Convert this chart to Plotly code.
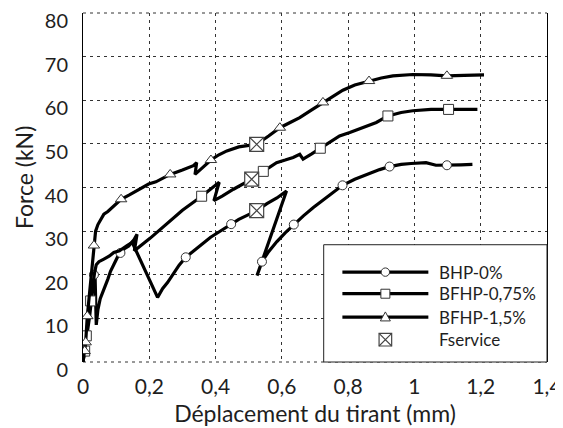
import plotly.graph_objects as go

# ---------------- data ----------------
bhp0_x = [0.0, 0.010, 0.020, 0.028, 0.033, 0.036, 0.040, 0.045, 0.052, 0.063, 0.075, 0.083, 0.095,
          0.105, 0.113, 0.125, 0.138, 0.148, 0.225, 0.240, 0.255, 0.270, 0.290, 0.310, 0.335,
          0.360, 0.385, 0.410, 0.430, 0.447, 0.470, 0.495, 0.524, 0.555, 0.585, 0.614, 0.525,
          0.540, 0.560, 0.585, 0.610, 0.636, 0.665, 0.695, 0.725, 0.755, 0.783, 0.820, 0.860,
          0.895, 0.925, 0.960, 0.990, 1.035, 1.065, 1.098, 1.140, 1.175]
bhp0_y = [0.0, 5.0, 10.5, 16.0, 20.0, 21.0, 8.5, 12.0, 14.5, 16.5, 19.0, 20.8, 22.8,
          24.2, 25.0, 26.0, 26.6, 27.5, 14.8, 16.8, 18.2, 19.8, 22.2, 24.0, 25.6,
          27.0, 28.6, 29.8, 30.8, 31.6, 32.7, 33.6, 34.7, 36.3, 37.6, 39.2, 19.8,
          23.0, 25.3, 27.6, 29.6, 31.5, 33.5, 35.4, 37.2, 38.9, 40.5, 41.9, 43.1,
          44.1, 44.8, 45.3, 45.5, 45.7, 45.1, 45.1, 45.2, 45.3]
bhp0_mx = [0.033, 0.113, 0.310, 0.447, 0.540, 0.636, 0.783, 0.925, 1.098]
bhp0_my = [20.0, 25.0, 24.0, 31.6, 23.0, 31.5, 40.5, 44.8, 45.1]

bfhp075_x = [0.0, 0.005, 0.010, 0.016, 0.023, 0.030, 0.035, 0.040, 0.048, 0.063, 0.080, 0.093,
             0.110, 0.133, 0.150, 0.163, 0.155, 0.203, 0.250, 0.300, 0.358, 0.385, 0.411, 0.395,
             0.420, 0.454, 0.480, 0.509, 0.544, 0.584, 0.610, 0.634, 0.654, 0.664, 0.690, 0.716,
             0.745, 0.774, 0.805, 0.850, 0.885, 0.920, 0.960, 0.995, 1.050, 1.103, 1.150, 1.190]
bfhp075_y = [0.0, 2.5, 6.0, 10.0, 14.0, 18.0, 20.5, 22.3, 23.0, 23.6, 24.3, 25.1,
             25.5, 26.7, 27.5, 29.3, 25.5, 28.4, 31.5, 34.8, 38.0, 39.6, 41.2, 37.0,
             38.0, 39.6, 40.6, 41.9, 43.7, 45.7, 46.3, 46.9, 47.6, 46.5, 47.7, 49.0,
             50.4, 51.8, 52.6, 53.8, 54.9, 56.4, 57.2, 57.6, 57.9, 57.9, 58.0, 57.9]
bfhp075_mx = [0.005, 0.010, 0.023, 0.358, 0.544, 0.716, 0.920, 1.103]
bfhp075_my = [2.5, 6.0, 14.0, 38.0, 43.7, 49.0, 56.4, 57.9]

bfhp15_x = [0.0, 0.005, 0.008, 0.013, 0.020, 0.028, 0.033, 0.036, 0.038, 0.045, 0.055, 0.063,
            0.075, 0.093, 0.115, 0.140, 0.170, 0.198, 0.220, 0.240, 0.263, 0.300, 0.333, 0.343,
            0.338, 0.360, 0.386, 0.410, 0.434, 0.470, 0.500, 0.524, 0.560, 0.594, 0.625, 0.654,
            0.690, 0.724, 0.750, 0.784, 0.820, 0.863, 0.900, 0.935, 0.995, 1.050, 1.098, 1.150, 1.210]
bfhp15_y = [0.0, 2.5, 4.5, 10.5, 16.0, 22.0, 26.7, 28.0, 30.0, 31.5, 33.0, 33.9,
            34.5, 35.8, 37.3, 38.3, 39.5, 40.8, 41.3, 42.0, 43.0, 44.0, 45.0, 45.7,
            43.0, 44.5, 46.3, 47.5, 48.4, 49.3, 49.7, 49.9, 51.8, 53.7, 54.9, 56.0,
            57.8, 59.5, 60.8, 62.3, 63.5, 64.4, 65.1, 65.6, 65.9, 65.8, 65.6, 65.7, 65.8]
bfhp15_mx = [0.005, 0.008, 0.013, 0.033, 0.115, 0.263, 0.386, 0.594, 0.724, 0.863, 1.098]
bfhp15_my = [2.5, 4.5, 10.5, 26.7, 37.3, 43.0, 46.3, 53.7, 59.5, 64.4, 65.6]

fservice_x = [0.524, 0.509, 0.524]
fservice_y = [49.9, 41.9, 34.7]

series_names = ["BHP-0%", "BFHP-0,75%", "BFHP-1,5%"]
fservice_name = "Fservice"

x_tickvals = [0, 0.2, 0.4, 0.6, 0.8, 1.0, 1.2, 1.4]
x_ticktext = ["0", "0,2", "0,4", "0,6", "0,8", "1", "1,2", "1,4"]
y_tickvals = [0, 10, 20, 30, 40, 50, 60, 70, 80]

x_title = "Déplacement du tirant (mm)"
y_title = "Force (kN)"

# ---------------- styling ----------------
FONT = "Lato"
TXT = "#1e1e1e"
OFF = 8                      # page body margin offset in the browser
W, H = 555, 420
ML, MR, MT, MB = 74.5, 16.3, 4.5, 66.4
symbols = ["circle", "square", "triangle-up"]
msizes = [9, 10, 10]

fig = go.Figure()
series = [(bhp0_x, bhp0_y, bhp0_mx, bhp0_my),
          (bfhp075_x, bfhp075_y, bfhp075_mx, bfhp075_my),
          (bfhp15_x, bfhp15_y, bfhp15_mx, bfhp15_my)]

for (lx, ly, mx, my), sym, ms, name in zip(series, symbols, msizes, series_names):
    fig.add_trace(go.Scatter(x=lx, y=ly, mode="lines", name=name, showlegend=False,
                             line=dict(color="black", width=3.2)))
    fig.add_trace(go.Scatter(x=mx, y=my, mode="markers", showlegend=False,
                             marker=dict(symbol=sym, size=ms, color="white",
                                         line=dict(color="#333", width=1))))

fig.add_trace(go.Scatter(x=fservice_x, y=fservice_y, mode="markers", name=fservice_name,
                         showlegend=False,
                         marker=dict(symbol="square-x", size=14, color="white",
                                     line=dict(color="#444", width=1.2))))

# ---------------- custom legend drawn as shapes (plot-area fractions from screen pixels) ----------------
pw, ph = W - ML - MR, H - MT - MB
def fx(px):
    return (px - OFF - ML) / pw
def fy(py):
    return (H - MB - (py - OFF)) / ph

row_py = [271.7, 293.3, 316.7, 339.3]
LX0, LX1, LXM = 342, 428, 385
MK = dict(color="#333", width=1)

shapes = [
    # dashed top & bottom frame lines
    dict(type="line", xref="paper", yref="paper", x0=0, x1=1, y0=1, y1=1,
         line=dict(color="#333", width=1, dash="3px,4px"), layer="between"),
    dict(type="line", xref="paper", yref="paper", x0=0, x1=1, y0=0, y1=0,
         line=dict(color="#333", width=1, dash="3px,4px"), layer="between"),
    # legend box
    dict(type="rect", xref="paper", yref="paper", x0=fx(323.3), x1=1, y0=0, y1=fy(244.3),
         line=dict(color="#222", width=1), fillcolor="white", layer="above"),
]
for i in range(3):
    yy = fy(row_py[i])
    shapes.append(dict(type="line", xref="paper", yref="paper", x0=fx(LX0), x1=fx(LX1), y0=yy, y1=yy,
                       line=dict(color="black", width=3.2), layer="above"))
# circle
r = 4.2
shapes.append(dict(type="circle", xref="paper", yref="paper",
                   x0=fx(LXM - r), x1=fx(LXM + r), y0=fy(row_py[0] + r), y1=fy(row_py[0] - r),
                   line=MK, fillcolor="white", layer="above"))
# square
s = 4.5
shapes.append(dict(type="rect", xref="paper", yref="paper",
                   x0=fx(LXM - s), x1=fx(LXM + s), y0=fy(row_py[1] + s), y1=fy(row_py[1] - s),
                   line=MK, fillcolor="white", layer="above"))
# triangle
cy = row_py[2]
tri = "M {:.5f},{:.5f} L {:.5f},{:.5f} L {:.5f},{:.5f} Z".format(
    fx(LXM - 5), fy(cy + 3.8), fx(LXM + 5), fy(cy + 3.8), fx(LXM), fy(cy - 5.2))
shapes.append(dict(type="path", xref="paper", yref="paper", path=tri,
                   line=MK, fillcolor="white", layer="above"))
# square with X (Fservice)
q = 6.3
cy = row_py[3]
shapes.append(dict(type="rect", xref="paper", yref="paper",
                   x0=fx(LXM - q), x1=fx(LXM + q), y0=fy(cy + q), y1=fy(cy - q),
                   line=dict(color="#444", width=1.2), fillcolor="white", layer="above"))
xpath = "M {:.5f},{:.5f} L {:.5f},{:.5f} M {:.5f},{:.5f} L {:.5f},{:.5f}".format(
    fx(LXM - q), fy(cy + q), fx(LXM + q), fy(cy - q), fx(LXM - q), fy(cy - q), fx(LXM + q), fy(cy + q))
shapes.append(dict(type="path", xref="paper", yref="paper", path=xpath,
                   line=dict(color="#444", width=1.1), layer="above"))

annotations = []
for i, name in enumerate(series_names + [fservice_name]):
    annotations.append(dict(x=fx(436.5), y=fy(row_py[i]), xref="paper", yref="paper",
                            text=name, showarrow=False, xanchor="left", yanchor="middle",
                            font=dict(family=FONT, size=17, color=TXT)))
# y-axis title
annotations.append(dict(x=fx(24), y=fy(177), xref="paper", yref="paper", text=y_title,
                        textangle=-90, showarrow=False, xanchor="center", yanchor="middle",
                        font=dict(family=FONT, size=23, color=TXT)))

fig.update_layout(
    width=W, height=H,
    margin=dict(l=ML, r=MR, t=MT, b=MB, autoexpand=False),
    paper_bgcolor="white", plot_bgcolor="white",
    showlegend=False,
    font=dict(family=FONT, size=20, color=TXT),
    xaxis=dict(range=[0, 1.4], tickvals=x_tickvals, ticktext=x_ticktext,
               zeroline=False, showline=False, automargin=False,
               showgrid=True, gridcolor="#333", gridwidth=1, griddash="3px,4px",
               ticks="", ticklabelstandoff=10, ticklabeloverflow="allow",
               tickfont=dict(size=21),
               title=dict(text=x_title, standoff=8, font=dict(size=23))),
    yaxis=dict(range=[0, 80], tickvals=y_tickvals, zeroline=False, automargin=False,
               showline=True, mirror=True, linecolor="black", linewidth=1,
               showgrid=True, gridcolor="#333", gridwidth=1, griddash="3px,4px",
               ticks="", ticklabelstandoff=10, ticklabeloverflow="allow", ticklabelshift=8,
               tickfont=dict(size=20)),
    annotations=annotations,
    shapes=shapes,
)

fig.write_html("out.html")
